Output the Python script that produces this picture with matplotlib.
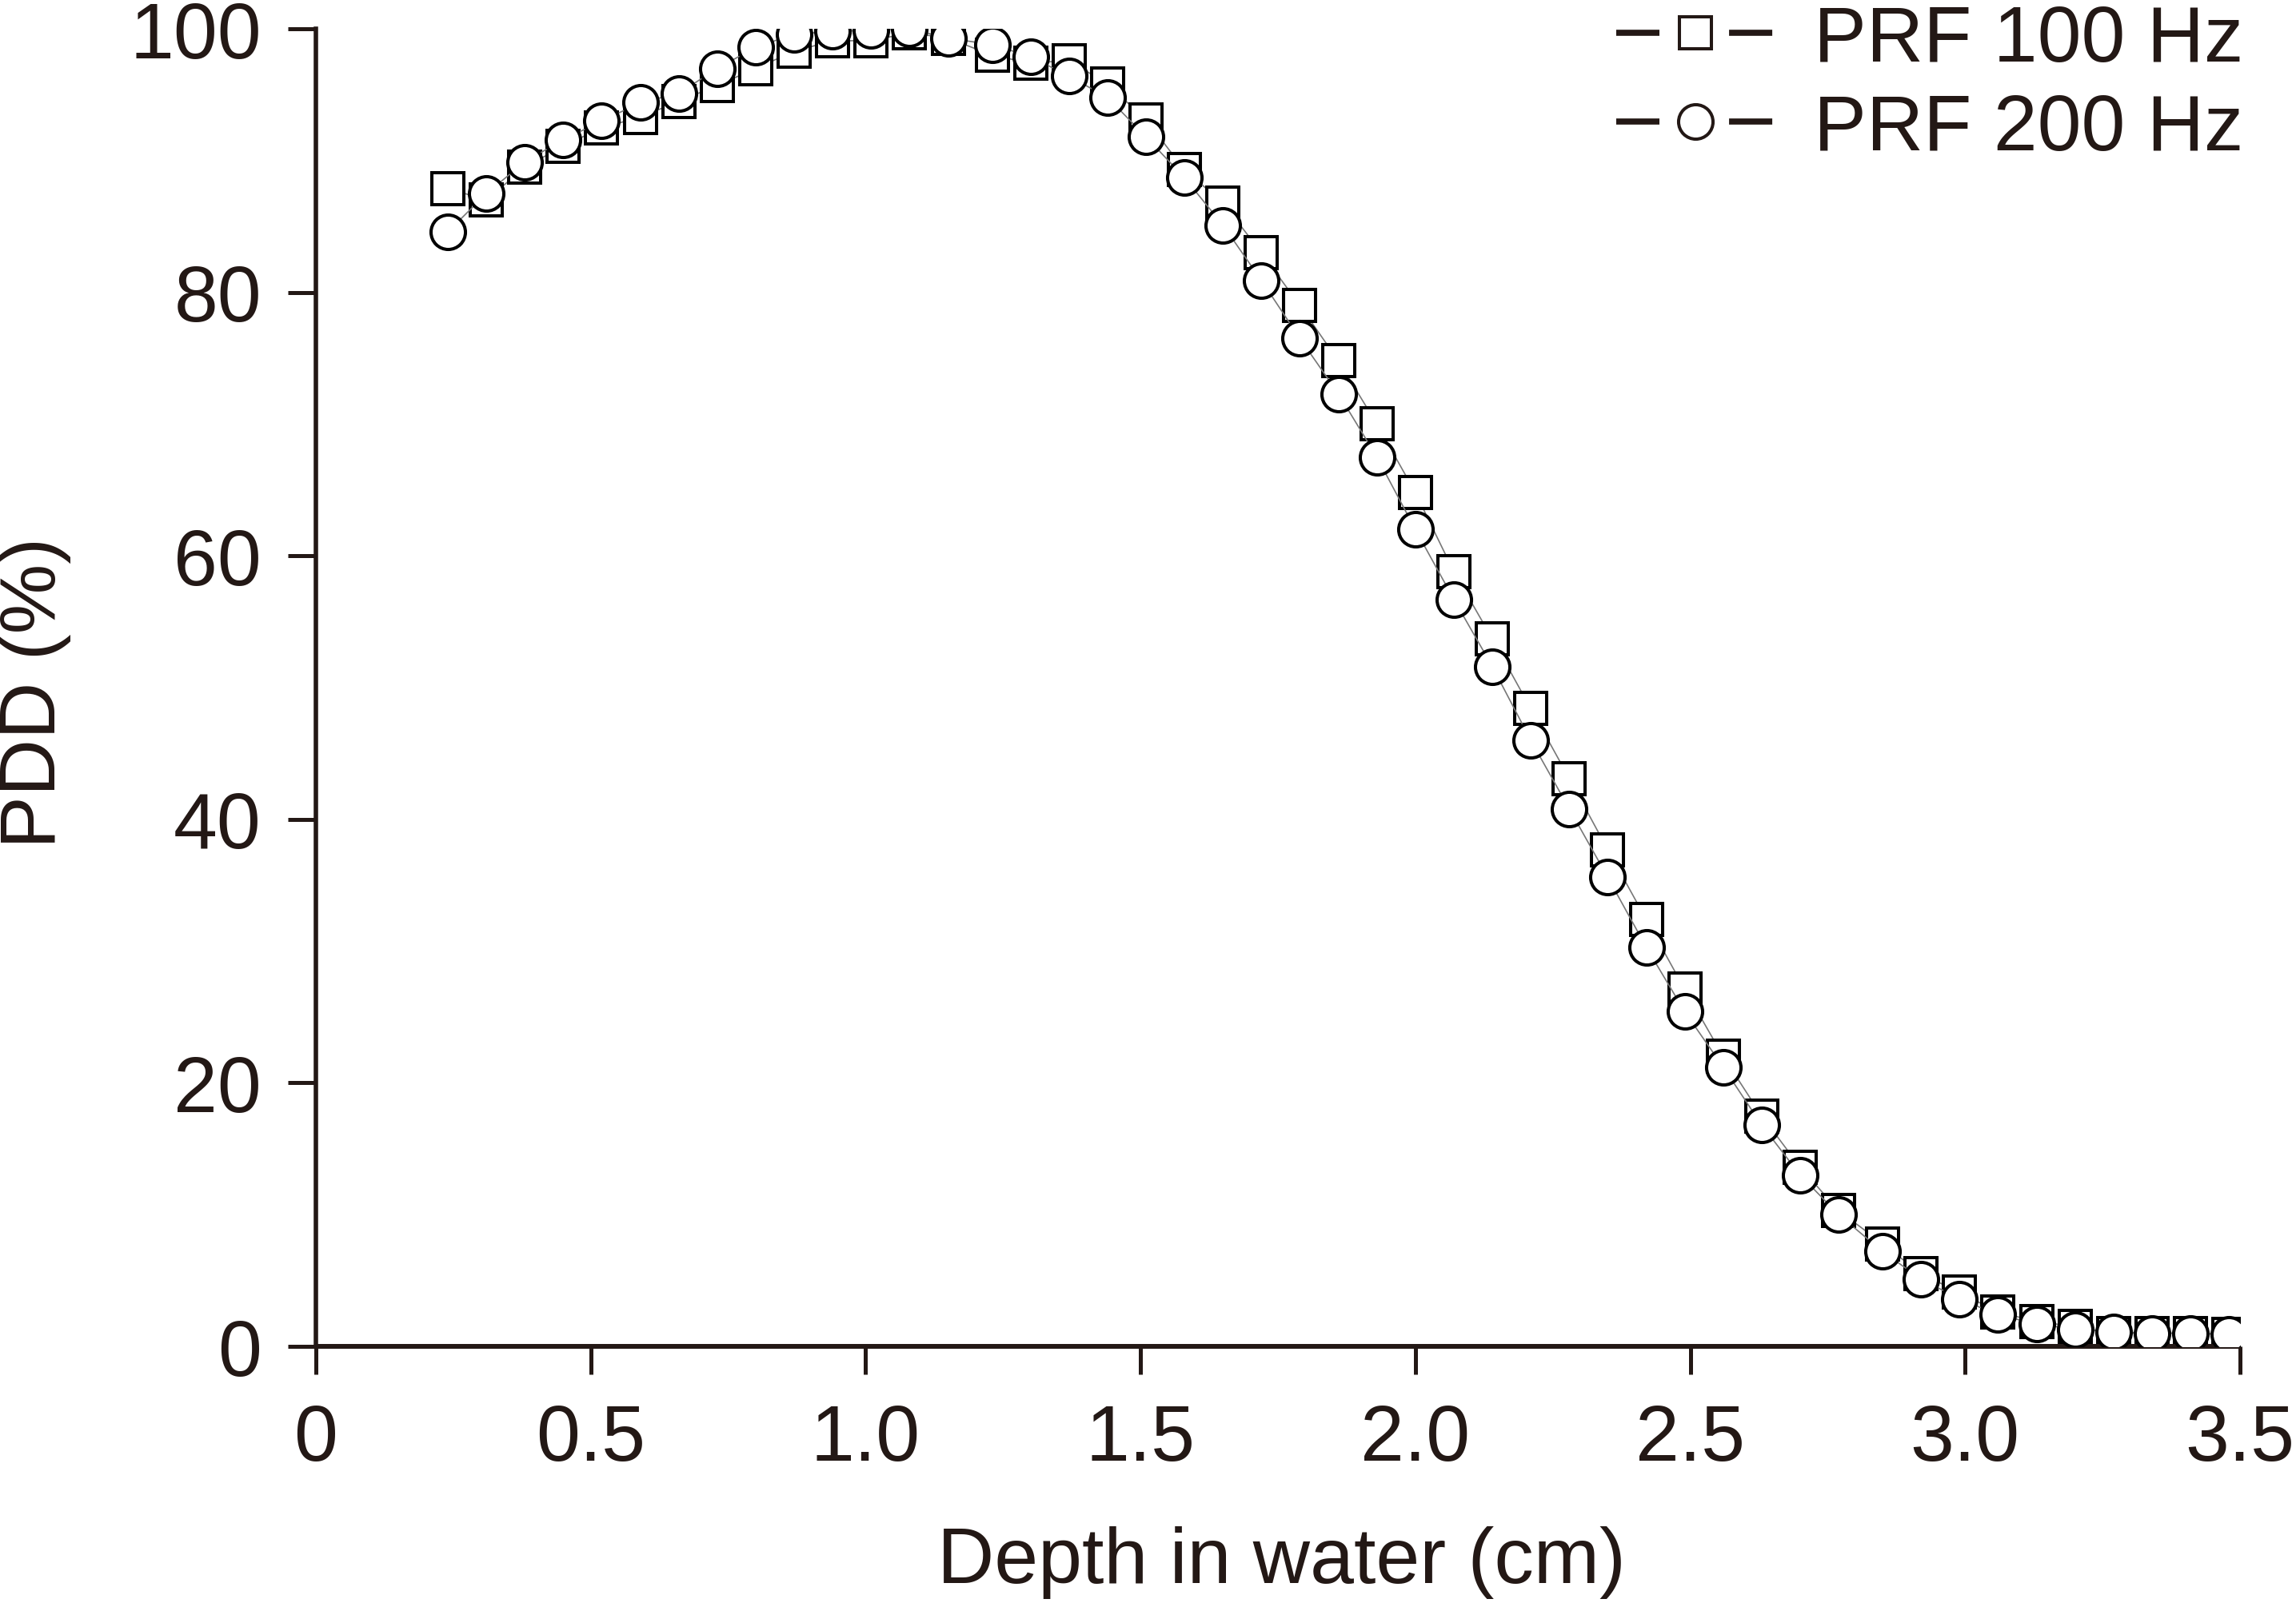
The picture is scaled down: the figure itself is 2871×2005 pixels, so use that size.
import numpy as np
import matplotlib
matplotlib.use('Agg')
import matplotlib.pyplot as plt
from matplotlib.lines import Line2D
from matplotlib.legend_handler import HandlerTuple

# ============================================================
# Data
# ============================================================
depth = [0.24, 0.31, 0.38, 0.45, 0.52, 0.59, 0.66, 0.73, 0.80, 0.87,
         0.94, 1.01, 1.08, 1.15, 1.23, 1.30, 1.37, 1.44, 1.51, 1.58,
         1.65, 1.72, 1.79, 1.86, 1.93, 2.00, 2.07, 2.14, 2.21, 2.28,
         2.35, 2.42, 2.49, 2.56, 2.63, 2.70, 2.77, 2.85, 2.92, 2.99,
         3.06, 3.13, 3.20, 3.27, 3.34, 3.41, 3.48]

pdd_100 = [87.9, 87.0, 89.5, 91.1, 92.5, 93.3, 94.5, 95.7, 97.0, 98.3,
           99.1, 99.1, 99.7, 99.3, 98.0, 97.4, 97.6, 95.8, 93.1, 89.3,
           86.8, 83.0, 79.0, 74.8, 70.0, 64.8, 58.8, 53.7, 48.4, 43.1,
           37.7, 32.4, 27.1, 22.0, 17.5, 13.6, 10.3, 7.8, 5.5, 4.1,
           2.6, 1.9, 1.5, 1.0, 1.0, 1.0, 0.9]

pdd_200 = [84.6, 87.5, 89.9, 91.6, 93.0, 94.4, 95.1, 97.0, 98.6, 99.6,
           99.8, 99.9, 100.0, 99.3, 98.8, 97.9, 96.4, 94.8, 91.8, 88.7,
           85.1, 80.9, 76.5, 72.3, 67.5, 62.0, 56.7, 51.6, 46.0, 40.8,
           35.6, 30.3, 25.4, 21.2, 16.8, 13.0, 10.0, 7.2, 5.1, 3.6,
           2.4, 1.7, 1.3, 1.1, 1.0, 1.0, 0.9]

labels = ['PRF 100 Hz', 'PRF 200 Hz']
xticks = [0, 0.5, 1.0, 1.5, 2.0, 2.5, 3.0, 3.5]
xticklabels = ['0', '0.5', '1.0', '1.5', '2.0', '2.5', '3.0', '3.5']
yticks = [0, 20, 40, 60, 80, 100]

# ============================================================
# Style
# ============================================================
INK = '#231815'
FS = 71
plt.rcParams['font.family'] = ['Liberation Sans', 'DejaVu Sans']

fig = plt.figure(figsize=(28.71, 20.06), dpi=100)
ax = fig.add_axes([0.1376, 0.1600, 0.8380, 0.8215])

ms = 29
mew = 2.9
ax.plot(depth, pdd_100, color='#777777', lw=1.2, zorder=2,
        marker='s', ms=ms, mew=mew, mec='black', mfc='white')
ax.plot(depth, pdd_200, color='#777777', lw=1.2, zorder=3,
        marker='o', ms=ms + 2, mew=mew, mec='black', mfc='white')

ax.set_xlim(0, 3.5)
ax.set_ylim(0, 100)
ax.set_xticks(xticks)
ax.set_xticklabels(xticklabels)
ax.set_yticks(yticks)

for side in ['top', 'right']:
    ax.spines[side].set_visible(False)
for side in ['left', 'bottom']:
    ax.spines[side].set_color(INK)
ax.spines['bottom'].set_linewidth(4.3)
ax.spines['left'].set_linewidth(4.0)
ax.spines['bottom'].set_capstyle('butt')

ax.tick_params(axis='both', direction='out', length=25, width=3.6,
               color=INK, labelcolor=INK, labelsize=FS)
ax.tick_params(axis='x', pad=26)
ax.tick_params(axis='y', pad=24)

fig.text(0.0153, 0.568, 'PDD (%)', rotation=90, ha='center', va='center',
         fontsize=FS, color=INK)
fig.text(0.558, 26 / 2006, 'Depth in water (cm)', ha='center', va='baseline',
         fontsize=FS, color=INK)

# legend: short dash, gap, marker, gap, short dash
dash = Line2D([], [], color=INK, lw=5.5, ls=(0, (7.07, 11.4)))
sq = Line2D([], [], ls='none', marker='s', ms=ms, mew=mew, mec=INK, mfc='white')
ci = Line2D([], [], ls='none', marker='o', ms=ms + 2, mew=mew, mec=INK, mfc='white')
leg = ax.legend([(dash, sq), (dash, ci)], labels,
                handler_map={tuple: HandlerTuple(ndivide=1)},
                loc='upper right', bbox_to_anchor=(2805 / 2871, 1 - 6 / 2006),
                bbox_transform=fig.transFigure, frameon=False, fontsize=FS,
                handlelength=2.0, handletextpad=0.5, labelspacing=0.2,
                borderpad=0, borderaxespad=0, numpoints=1)
for t in leg.get_texts():
    t.set_color(INK)

fig.savefig('out.png', dpi=100)
